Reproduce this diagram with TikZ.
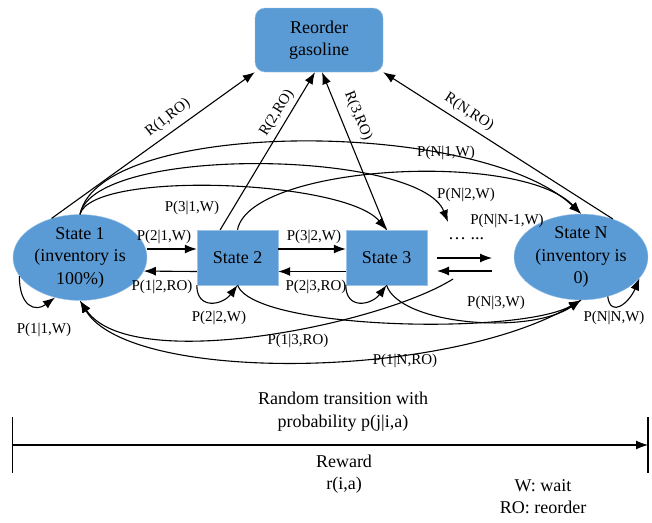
\documentclass[tikz,border=0pt]{standalone}
\usepackage{fontspec}
\setmainfont{Liberation Serif}
\usetikzlibrary{shapes.geometric,arrows.meta}
\definecolor{boxblue}{RGB}{91,155,213}
\newcommand\bigtxt{\rmfamily\fontsize{18}{22.5}\selectfont}
\newcommand\smalltxt{\rmfamily\fontsize{15}{18}\selectfont}

\begin{document}
\begin{tikzpicture}[x=1pt,y=-1pt,
  state/.style={ellipse,fill=boxblue,draw=boxblue!60!white,minimum width=134pt,minimum height=66pt,inner sep=0pt,align=center,font=\bigtxt},
  sbox/.style={rectangle,fill=boxblue,draw=boxblue!60!white,minimum width=81pt,minimum height=55pt,inner sep=0pt,align=center,font=\bigtxt},
  lbl/.style={inner sep=1pt,font=\smalltxt},
  arr/.style={-{Latex[length=12pt,width=9pt]},line width=1.1pt}]
\useasboundingbox (0,0) rectangle (652,522);

% states
\node[sbox,rounded corners=10pt,minimum width=128pt,minimum height=64pt] (ro) at (319,40) {Reorder\\gasoline};
\node[state] (s1) at (80,257.5) {State 1\\(inventory is\\100\%)};
\node[sbox] (s2) at (237.5,257.5) {State 2};
\node[sbox] (s3) at (386.5,257.5) {State 3};
\node[state] (sN) at (581,257) {State N\\(inventory is\\0)};
\node[font=\bigtxt,inner sep=0pt] (dots) at (466,239) {… ...};
\coordinate (dtop) at (448,222);
\coordinate (dbot) at (453,279);
\coordinate (g1) at (437,258);
\coordinate (g2) at (492,258);
\coordinate (g3) at (492,271);
\coordinate (g4) at (437,271);

% reorder arrows
\draw[arr] (s1.126) -- (ro.south west);
\draw[arr] (s2.122) -- ([xshift=-4pt]ro.south);
\draw[arr] (s3.north) -- ([xshift=3pt]ro.south);
\draw[arr] (sN.50) -- (ro.south east);
\node[lbl,rotate=38] (r1) at (168,118) {R(1,RO)};
\node[lbl,rotate=58] (r2) at (277,113) {R(2,RO)};
\node[lbl,rotate=-68] (r3) at (358,116) {R(3,RO)};
\node[lbl,rotate=-33] (rN) at (469,112) {R(N,RO)};

% neighbour transitions
\draw[arr] ([yshift=8.5pt]s1.east) -- ([yshift=8.5pt]s2.west);
\draw[arr] ([yshift=-14pt]s2.west) -- (s1.-12);
\draw[arr] ([yshift=8.5pt]s2.east) -- ([yshift=8.5pt]s3.west);
\draw[arr] ([yshift=-14pt]s3.west) -- ([yshift=-14pt]s2.east);
\draw[arr] (g1) -- (g2);
\draw[arr] (g3) -- (g4);

% long jumps over the top
\draw[arr] (s1.north) .. controls +(20,-96.5) and +(-101,-96) .. (sN.north);
\draw[arr] (s1.north) .. controls +(15,-70) and +(-28,-72) .. (dtop);
\draw[arr] (s1.north) .. controls +(12,-44.5) and +(-41.5,-50) .. (s3.north);
\draw[arr] (s2.north) .. controls +(12.5,-65) and +(-61,-64) .. (sN.north);

% self loops
\draw[arr] (s1.197) .. controls +(0,30) and +(-20,15) .. (s1.238);
\draw[arr] (s2.south west) .. controls +(0,25) and +(-15,20) .. (s2.south);
\draw[arr] (s3.south west) .. controls +(0,25) and +(-15,20) .. (s3.south);
\draw[arr] (sN.-56) .. controls +(3,22) and +(-10,24) .. (sN.-20);

% jumps underneath
\draw[arr] (s2.south) .. controls +(17.5,45) and +(-61,35) .. (sN.south);
\draw[arr] (s3.south) .. controls +(13.5,40) and +(-51,35) .. (sN.south);
\draw[arr,{Latex[length=12pt,width=9pt]}-] (s1.south) .. controls +(50,74.5) and +(-73,46) .. (dbot);
\draw[arr,{Latex[length=12pt,width=9pt]}-] (s1.south) .. controls +(50,84.5) and +(-121,80) .. (sN.south);

% transition labels
\node[lbl] (p21) at (164,237) {P(2|1,W)};
\node[lbl] (p12) at (162,287) {P(1|2,RO)};
\node[lbl] (p32) at (314,237) {P(3|2,W)};
\node[lbl] (p23) at (316,287) {P(2|3,RO)};
\node[lbl] (p31) at (192,208) {P(3|1,W)};
\node[lbl] (pN1) at (446,153) {P(N|1,W)};
\node[lbl] (pN2) at (466,195) {P(N|2,W)};
\node[lbl] (pNN1) at (507,221) {P(N|N-1,W)};
\node[lbl] (p11) at (44,330) {P(1|1,W)};
\node[lbl] (p22) at (219,318) {P(2|2,W)};
\node[lbl] (p13) at (298,341) {P(1|3,RO)};
\node[lbl] (pN3) at (496,303) {P(N|3,W)};
\node[lbl] (pNN) at (614,318) {P(N|N,W)};
\node[lbl] (p1N) at (405,361) {P(1|N,RO)};

% time axis
\coordinate (tl) at (12.5,445);
\coordinate (tr) at (648,445);
\draw[line width=1.4pt] (12.5,417) -- (12.5,473);
\draw[line width=1.4pt] (648,417) -- (648,473);
\draw[arr] (tl) -- (tr);
\node[font=\bigtxt,align=center] (trans) at (343,411.5) {Random transition with\\probability p(j|i,a)};
\node[font=\bigtxt,align=center] (rew) at (344,474) {Reward\\r(i,a)};
\node[font=\bigtxt,align=center] (key) at (543,496.5) {W: wait\\RO: reorder};
\end{tikzpicture}
\end{document}
